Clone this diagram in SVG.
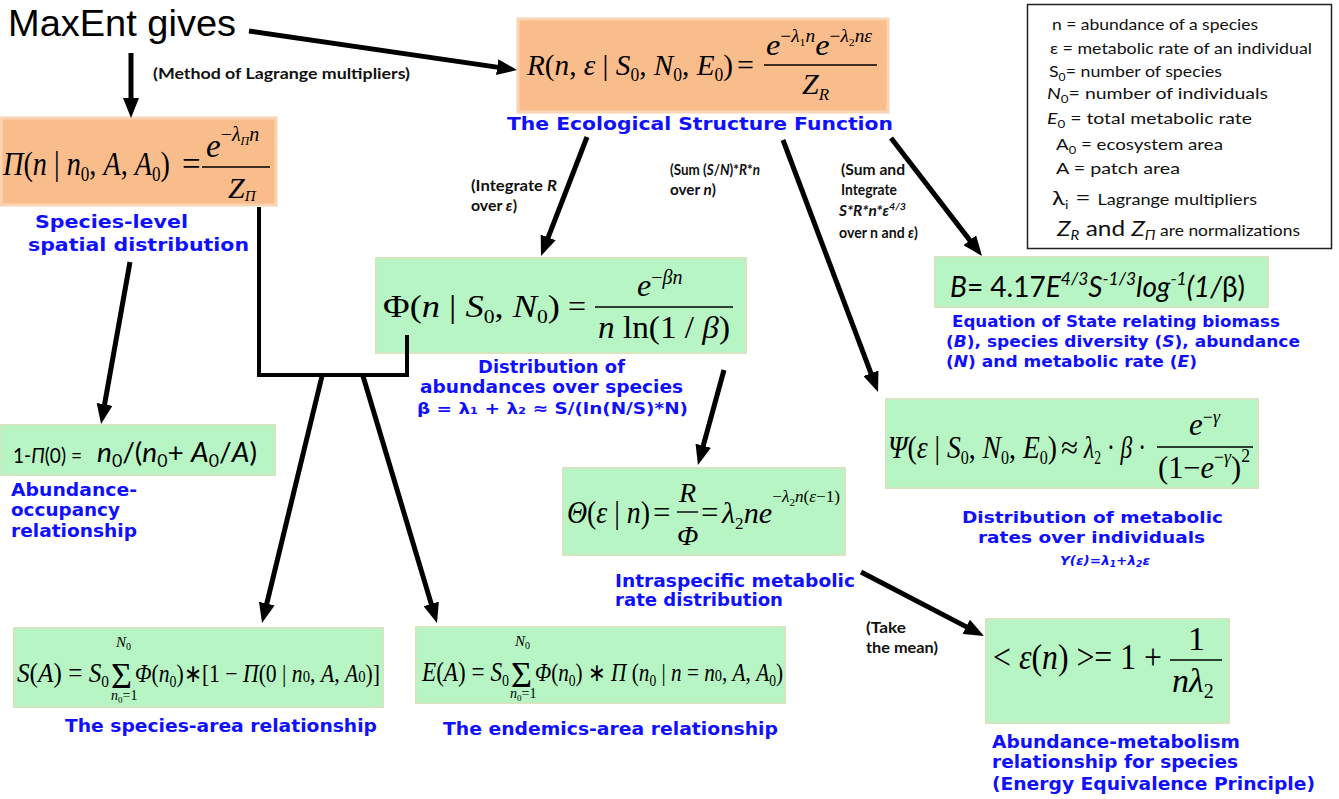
<svg xmlns="http://www.w3.org/2000/svg" width="1339" height="799" viewBox="0 0 1339 799">
<defs>
<marker id="ah" viewBox="0 0 20 16" refX="10" refY="8" markerWidth="20" markerHeight="16" markerUnits="userSpaceOnUse" orient="auto"><path d="M0,0 L20,8 L0,16 z" fill="#000"/></marker>
</defs>
<style>
.m{font-family:"Liberation Serif","Times New Roman",serif;fill:#000}
.i{font-style:italic}
.u{font-style:normal}
.lbl{font-family:"DejaVu Sans",Verdana,sans-serif;font-weight:bold;fill:#1010ff}
.ann{font-family:Lato,"Liberation Sans",sans-serif;font-weight:bold;font-size:14.5px;fill:#111}
.leg{font-family:Lato,"Liberation Sans",sans-serif;font-size:16px;fill:#111}
.cal{font-family:Lato,"Liberation Sans",sans-serif;fill:#000}
.or{fill:#f9bd8c;stroke:#fad4b3;stroke-width:3}
.gr{fill:#b7f5c4;stroke:#d3e6c0;stroke-width:2}
.cn{stroke:#000;stroke-width:5;fill:none}
.bar{stroke:#000;stroke-width:1.4}
</style>
<rect x="0" y="0" width="1339" height="799" fill="#fff"/>

<g id="maxent">
<text x="8" y="36" font-family="'Liberation Sans',Arial,sans-serif" font-size="37" textLength="228" lengthAdjust="spacingAndGlyphs">MaxEnt gives</text>
</g>

<g id="node-pi">
<rect class="or" x="1" y="118" width="275" height="87"/>
<text class="m" x="3" y="175" font-size="33" textLength="167" lengthAdjust="spacingAndGlyphs"><tspan class="i">Π</tspan>(<tspan class="i">n</tspan> | <tspan class="i">n</tspan><tspan font-size="20" dy="6">0</tspan><tspan dy="-6">, </tspan><tspan class="i">A</tspan>, <tspan class="i">A</tspan><tspan font-size="20" dy="6">0</tspan><tspan dy="-6">)</tspan></text>
<text class="m" x="182" y="175" font-size="33">=</text>
<line class="bar" x1="202" y1="167" x2="270" y2="167"/>
<text class="m" x="206" y="157" font-size="33"><tspan class="i">e</tspan><tspan font-size="20" dy="-16">−</tspan><tspan class="i" font-size="20">λ</tspan><tspan class="i" font-size="12" dy="4">Π</tspan><tspan class="i" font-size="20" dy="-4">n</tspan></text>
<text class="m i" x="228" y="198" font-size="30">Z<tspan font-size="15" dy="3">Π</tspan></text>
<text class="lbl" x="35" y="228" font-size="18" textLength="153" lengthAdjust="spacingAndGlyphs">Species-level</text>
<text class="lbl" x="28" y="251" font-size="18" textLength="221" lengthAdjust="spacingAndGlyphs">spatial distribution</text>
</g>

<g id="node-R">
<rect class="or" x="518" y="19" width="370" height="93"/>
<text class="m" x="527" y="75" font-size="30" textLength="206" lengthAdjust="spacingAndGlyphs"><tspan class="i">R</tspan>(<tspan class="i">n</tspan>, <tspan class="i">ε</tspan> | <tspan class="i">S</tspan><tspan font-size="18" dy="6">0</tspan><tspan dy="-6">, </tspan><tspan class="i">N</tspan><tspan font-size="18" dy="6">0</tspan><tspan dy="-6">, </tspan><tspan class="i">E</tspan><tspan font-size="18" dy="6">0</tspan><tspan dy="-6">)</tspan></text>
<text class="m" x="737" y="75" font-size="30">=</text>
<line class="bar" x1="764" y1="65" x2="877" y2="65"/>
<text class="m" x="766" y="55" font-size="30" textLength="106" lengthAdjust="spacingAndGlyphs"><tspan class="i">e</tspan><tspan font-size="18" dy="-13">−</tspan><tspan class="i" font-size="18">λ</tspan><tspan font-size="11" dy="4">1</tspan><tspan class="i" font-size="18" dy="-4">n</tspan><tspan class="i" dy="13">e</tspan><tspan font-size="18" dy="-13">−</tspan><tspan class="i" font-size="18">λ</tspan><tspan font-size="11" dy="4">2</tspan><tspan class="i" font-size="18" dy="-4">nε</tspan></text>
<text class="m i" x="802" y="94" font-size="30">Z<tspan font-size="17" dy="6">R</tspan></text>
<text class="lbl" x="507" y="130" font-size="17" textLength="386" lengthAdjust="spacingAndGlyphs">The Ecological Structure Function</text>
</g>

<g id="legend">
<rect x="1027.5" y="4.5" width="304" height="244" fill="#fff" stroke="#222" stroke-width="1.5"/>
<text class="leg" x="1052" y="30" textLength="206" lengthAdjust="spacingAndGlyphs">n = abundance of a species</text>
<text class="leg" x="1050" y="54" textLength="262" lengthAdjust="spacingAndGlyphs">ε = metabolic rate of an individual</text>
<text class="leg" x="1049" y="77" textLength="173" lengthAdjust="spacingAndGlyphs">S<tspan font-size="11" dy="4">0</tspan><tspan dy="-4">= number of species</tspan></text>
<text class="leg" x="1047" y="99" textLength="221" lengthAdjust="spacingAndGlyphs"><tspan class="i">N</tspan><tspan font-size="11" dy="4">0</tspan><tspan dy="-4">= number of individuals</tspan></text>
<text class="leg" x="1047" y="124" textLength="205" lengthAdjust="spacingAndGlyphs"><tspan class="i">E</tspan><tspan font-size="11" dy="4">0</tspan><tspan dy="-4"> = total metabolic rate</tspan></text>
<text class="leg" x="1056" y="150" textLength="167" lengthAdjust="spacingAndGlyphs">A<tspan font-size="11" dy="4">0</tspan><tspan dy="-4"> = ecosystem area</tspan></text>
<text class="leg" x="1056" y="174" textLength="124" lengthAdjust="spacingAndGlyphs">A  = patch area</text>
<text class="leg" x="1052" y="205" textLength="205" lengthAdjust="spacingAndGlyphs"><tspan font-size="20">λ</tspan><tspan font-size="12" dy="4">i</tspan><tspan font-size="22" dy="-4"> = </tspan><tspan font-size="15">Lagrange multipliers</tspan></text>
<text class="leg" x="1057" y="236" textLength="243" lengthAdjust="spacingAndGlyphs"><tspan class="i" font-size="21">Z</tspan><tspan class="i" font-size="13" dy="4">R</tspan><tspan font-size="21" dy="-4"> and </tspan><tspan class="i" font-size="21">Z</tspan><tspan class="i" font-size="13" dy="4">Π</tspan><tspan font-size="15" dy="-4"> are normalizations</tspan></text>
</g>

<g id="node-phi">
<rect class="gr" x="376" y="258" width="370" height="95"/>
<text class="m" x="383" y="317" font-size="32" textLength="177" lengthAdjust="spacingAndGlyphs">Φ(<tspan class="i">n</tspan> | <tspan class="i">S</tspan><tspan font-size="19" dy="6">0</tspan><tspan dy="-6">, </tspan><tspan class="i">N</tspan><tspan font-size="19" dy="6">0</tspan><tspan dy="-6">)</tspan></text>
<text class="m" x="568" y="317" font-size="32">=</text>
<line class="bar" x1="595" y1="307" x2="733" y2="307"/>
<text class="m" x="637" y="296" font-size="32"><tspan class="i">e</tspan><tspan font-size="20" dy="-12">−</tspan><tspan class="i" font-size="20">βn</tspan></text>
<text class="m" x="598" y="338" font-size="32" textLength="132" lengthAdjust="spacingAndGlyphs"><tspan class="i">n</tspan> ln(1 / <tspan class="i">β</tspan>)</text>
<text class="lbl" x="478" y="373" font-size="17" textLength="147" lengthAdjust="spacingAndGlyphs">Distribution of</text>
<text class="lbl" x="420" y="393" font-size="17" textLength="263" lengthAdjust="spacingAndGlyphs">abundances over species</text>
<text class="lbl" x="417" y="414" font-size="16" textLength="271" lengthAdjust="spacingAndGlyphs">β = λ₁ + λ₂ ≈ S/(ln(N/S)*N)</text>
</g>

<g id="node-B">
<rect class="gr" x="935" y="257" width="333" height="50"/>
<text class="cal" x="950" y="297" font-size="29" textLength="295" lengthAdjust="spacingAndGlyphs"><tspan class="i">B</tspan>= 4.17<tspan class="i">E</tspan><tspan class="i" font-size="18" dy="-12">4/3</tspan><tspan class="i" dy="12">S</tspan><tspan class="i" font-size="18" dy="-12">-1/3</tspan><tspan class="i" dy="12">log</tspan><tspan class="i" font-size="18" dy="-12">-1</tspan><tspan class="i" dy="12">(1/</tspan>β)</text>
<text class="lbl" x="952" y="327" font-size="15.5" textLength="328" lengthAdjust="spacingAndGlyphs">Equation of State relating biomass</text>
<text class="lbl" x="946" y="347" font-size="15.5" textLength="354" lengthAdjust="spacingAndGlyphs">(<tspan class="i">B</tspan>), species diversity (<tspan class="i">S</tspan>), abundance</text>
<text class="lbl" x="946" y="367" font-size="15.5" textLength="251" lengthAdjust="spacingAndGlyphs">(<tspan class="i">N</tspan>) and metabolic rate (<tspan class="i">E</tspan>)</text>
</g>

<g id="node-occ">
<rect class="gr" x="0" y="425" width="275" height="50"/>
<text class="cal" x="13" y="463" font-size="21" textLength="69" lengthAdjust="spacingAndGlyphs">1-<tspan class="i">Π</tspan>(0) =</text>
<text class="cal" x="97" y="462" font-size="27" textLength="160" lengthAdjust="spacingAndGlyphs"><tspan class="i">n</tspan><tspan font-size="17" dy="5">0</tspan><tspan dy="-5">/(</tspan><tspan class="i">n</tspan><tspan font-size="17" dy="5">0</tspan><tspan dy="-5">+ </tspan><tspan class="i">A</tspan><tspan font-size="17" dy="5">0</tspan><tspan dy="-5">/</tspan><tspan class="i">A</tspan>)</text>
<text class="lbl" x="11" y="496" font-size="17" textLength="126" lengthAdjust="spacingAndGlyphs">Abundance-</text>
<text class="lbl" x="11" y="516" font-size="17" textLength="109" lengthAdjust="spacingAndGlyphs">occupancy</text>
<text class="lbl" x="11" y="537" font-size="17" textLength="126" lengthAdjust="spacingAndGlyphs">relationship</text>
</g>

<g id="node-theta">
<rect class="gr" x="563" y="468" width="282" height="87"/>
<text class="m" x="567" y="523" font-size="31" textLength="83" lengthAdjust="spacingAndGlyphs"><tspan class="i">Θ</tspan>(<tspan class="i">ε</tspan> | <tspan class="i">n</tspan>)</text>
<text class="m" x="653" y="523" font-size="31">=</text>
<text class="m i" x="679" y="502" font-size="28">R</text>
<line class="bar" x1="677" y1="512" x2="698" y2="512"/>
<text class="m i" x="677" y="545" font-size="28">Φ</text>
<text class="m" x="701" y="523" font-size="31">=</text>
<text class="m" x="722" y="523" font-size="30" textLength="118" lengthAdjust="spacingAndGlyphs"><tspan class="i">λ</tspan><tspan font-size="17" dy="6">2</tspan><tspan class="i" dy="-6">ne</tspan><tspan font-size="17" dy="-21">−</tspan><tspan class="i" font-size="17">λ</tspan><tspan font-size="11" dy="4">2</tspan><tspan class="i" font-size="17" dy="-4">n</tspan><tspan font-size="17">(</tspan><tspan class="i" font-size="17">ε</tspan><tspan font-size="17">−1)</tspan></text>
<text class="lbl" x="615" y="587" font-size="17" textLength="240" lengthAdjust="spacingAndGlyphs">Intraspecific metabolic</text>
<text class="lbl" x="615" y="606" font-size="17" textLength="168" lengthAdjust="spacingAndGlyphs">rate distribution</text>
</g>

<g id="node-psi">
<rect class="gr" x="886" y="399" width="372" height="89"/>
<text class="m" x="888" y="458" font-size="31" textLength="169" lengthAdjust="spacingAndGlyphs"><tspan class="i">Ψ</tspan>(<tspan class="i">ε</tspan> | <tspan class="i">S</tspan><tspan font-size="18" dy="6">0</tspan><tspan dy="-6">, </tspan><tspan class="i">N</tspan><tspan font-size="18" dy="6">0</tspan><tspan dy="-6">, </tspan><tspan class="i">E</tspan><tspan font-size="18" dy="6">0</tspan><tspan dy="-6">)</tspan></text>
<text class="m" x="1061" y="458" font-size="31">≈</text>
<text class="m" x="1084" y="458" font-size="31" textLength="62" lengthAdjust="spacingAndGlyphs"><tspan class="i">λ</tspan><tspan font-size="18" dy="6">2</tspan><tspan dy="-6"> · </tspan><tspan class="i">β</tspan> ·</text>
<line class="bar" x1="1157" y1="447" x2="1253" y2="447"/>
<text class="m" x="1189" y="435" font-size="31"><tspan class="i">e</tspan><tspan font-size="18" dy="-12">−</tspan><tspan class="i" font-size="18">γ</tspan></text>
<text class="m" x="1158" y="478" font-size="31" textLength="92" lengthAdjust="spacingAndGlyphs">(1−<tspan class="i">e</tspan><tspan font-size="18" dy="-15">−</tspan><tspan class="i" font-size="18">γ</tspan><tspan dy="15">)</tspan><tspan font-size="18" dy="-16">2</tspan></text>
<text class="lbl" x="962" y="523" font-size="16.5" textLength="261" lengthAdjust="spacingAndGlyphs">Distribution of metabolic</text>
<text class="lbl" x="978" y="543" font-size="16.5" textLength="227" lengthAdjust="spacingAndGlyphs">rates over individuals</text>
<text class="lbl i" x="1060" y="565" font-size="12" textLength="90" lengthAdjust="spacingAndGlyphs">Υ(ε)=λ<tspan font-size="8" dy="2">1</tspan><tspan dy="-2">+λ</tspan><tspan font-size="8" dy="2">2</tspan><tspan dy="-2">ε</tspan></text>
</g>

<g id="node-sar">
<rect class="gr" x="14" y="628" width="369" height="79"/>
<text class="m" x="17" y="682" font-size="28" textLength="92" lengthAdjust="spacingAndGlyphs"><tspan class="i">S</tspan>(<tspan class="i">A</tspan>) = <tspan class="i">S</tspan><tspan font-size="17" dy="5">0</tspan></text>
<text class="m" x="111" y="688" font-size="36">Σ</text>
<text class="m i" x="116" y="647" font-size="15">N<tspan class="u" font-size="10" dy="3">0</tspan></text>
<text class="m" x="111" y="700" font-size="14"><tspan class="i">n</tspan><tspan font-size="9" dy="3">0</tspan><tspan dy="-3">=1</tspan></text>
<text class="m" x="135" y="682" font-size="25" textLength="245" lengthAdjust="spacingAndGlyphs"><tspan class="i">Φ</tspan>(<tspan class="i">n</tspan><tspan font-size="16" dy="5">0</tspan><tspan dy="-5">)∗[1 − </tspan><tspan class="i">Π</tspan>(0 | <tspan class="i">n</tspan><tspan font-size="17">0</tspan>, <tspan class="i">A</tspan>, <tspan class="i">A</tspan><tspan font-size="17">0</tspan>)]</text>
<text class="lbl" x="65" y="732" font-size="17" textLength="312" lengthAdjust="spacingAndGlyphs">The species-area relationship</text>
</g>

<g id="node-ear">
<rect class="gr" x="416" y="627" width="369" height="76"/>
<text class="m" x="422" y="681" font-size="28" textLength="87" lengthAdjust="spacingAndGlyphs"><tspan class="i">E</tspan>(<tspan class="i">A</tspan>) = <tspan class="i">S</tspan><tspan font-size="17" dy="5">0</tspan></text>
<text class="m" x="511" y="687" font-size="36">Σ</text>
<text class="m i" x="515" y="646" font-size="15">N<tspan class="u" font-size="10" dy="3">0</tspan></text>
<text class="m" x="510" y="698" font-size="14"><tspan class="i">n</tspan><tspan font-size="9" dy="3">0</tspan><tspan dy="-3">=1</tspan></text>
<text class="m" x="535" y="681" font-size="25" textLength="248" lengthAdjust="spacingAndGlyphs"><tspan class="i">Φ</tspan>(<tspan class="i">n</tspan><tspan font-size="16" dy="5">0</tspan><tspan dy="-5">) ∗ </tspan><tspan class="i">Π</tspan>  (<tspan class="i">n</tspan><tspan font-size="16" dy="5">0</tspan><tspan dy="-5"> | </tspan><tspan class="i">n</tspan> = <tspan class="i">n</tspan><tspan font-size="17">0</tspan>, <tspan class="i">A</tspan>, <tspan class="i">A</tspan><tspan font-size="16" dy="5">0</tspan><tspan dy="-5">)</tspan></text>
<text class="lbl" x="443" y="735" font-size="17" textLength="335" lengthAdjust="spacingAndGlyphs">The endemics-area relationship</text>
</g>

<g id="node-eps">
<rect class="gr" x="986" y="619" width="243" height="104"/>
<text class="m" x="993" y="669" font-size="35" textLength="169" lengthAdjust="spacingAndGlyphs">&lt; <tspan class="i">ε</tspan>(<tspan class="i">n</tspan>) &gt;= 1 +</text>
<line class="bar" x1="1170" y1="660" x2="1222" y2="660"/>
<text class="m" x="1188" y="650" font-size="34">1</text>
<text class="m" x="1172" y="692" font-size="34"><tspan class="i">nλ</tspan><tspan font-size="20" dy="6">2</tspan></text>
<text class="lbl" x="992" y="748" font-size="17" textLength="248" lengthAdjust="spacingAndGlyphs">Abundance-metabolism</text>
<text class="lbl" x="992" y="768" font-size="17" textLength="246" lengthAdjust="spacingAndGlyphs">relationship for species</text>
<text class="lbl" x="992" y="790" font-size="17" textLength="323" lengthAdjust="spacingAndGlyphs">(Energy Equivalence Principle)</text>
</g>

<g id="connectors">
<line class="cn" x1="249" y1="31" x2="507.1" y2="68.6" marker-end="url(#ah)"/>
<line class="cn" x1="131" y1="53" x2="131" y2="108" marker-end="url(#ah)"/>
<line class="cn" x1="130" y1="262" x2="102.8" y2="414.2" marker-end="url(#ah)"/>
<path d="M259,207 V375 H407 V335" fill="none" stroke="#000" stroke-width="4"/>
<line class="cn" x1="322" y1="376" x2="264.4" y2="613.3" marker-end="url(#ah)"/>
<line class="cn" x1="363" y1="376" x2="434.1" y2="613.4" marker-end="url(#ah)"/>
<line class="cn" x1="587" y1="137" x2="544.6" y2="246.7" marker-end="url(#ah)"/>
<line class="cn" x1="783" y1="140" x2="874.5" y2="382.6" marker-end="url(#ah)"/>
<line class="cn" x1="891" y1="138" x2="975.9" y2="248.1" marker-end="url(#ah)"/>
<line class="cn" x1="724" y1="370" x2="700.6" y2="455.4" marker-end="url(#ah)"/>
<line class="cn" x1="861" y1="572" x2="975.1" y2="631.4" marker-end="url(#ah)"/>
<text class="ann" x="153" y="79" textLength="257" lengthAdjust="spacingAndGlyphs">(Method of Lagrange multipliers)</text>
<text class="ann" x="471" y="191" textLength="86" lengthAdjust="spacingAndGlyphs">(Integrate  <tspan class="i">R</tspan></text>
<text class="ann" x="471" y="211" textLength="46" lengthAdjust="spacingAndGlyphs">over <tspan class="i">ε</tspan>)</text>
<text class="ann" x="670" y="175" font-size="13.5" textLength="90" lengthAdjust="spacingAndGlyphs">(Sum (<tspan class="i">S</tspan>/<tspan class="i">N</tspan>)*<tspan class="i">R</tspan>*<tspan class="i">n</tspan></text>
<text class="ann" x="670" y="195" textLength="46" lengthAdjust="spacingAndGlyphs">over <tspan class="i">n</tspan>)</text>
<text class="ann" x="841" y="175" textLength="64" lengthAdjust="spacingAndGlyphs">(Sum and</text>
<text class="ann" x="841" y="195" textLength="56" lengthAdjust="spacingAndGlyphs">Integrate</text>
<text class="ann" x="839" y="216" textLength="67" lengthAdjust="spacingAndGlyphs"><tspan class="i">S*R*n*ε</tspan><tspan class="i" font-size="10" dy="-6">4/3</tspan></text>
<text class="ann" x="839" y="238" textLength="79" lengthAdjust="spacingAndGlyphs">over n and <tspan class="i">ε</tspan>)</text>
<text class="ann" x="866" y="633" textLength="40" lengthAdjust="spacingAndGlyphs">(Take</text>
<text class="ann" x="866" y="653" textLength="72" lengthAdjust="spacingAndGlyphs">the mean)</text>
</g>
</svg>
